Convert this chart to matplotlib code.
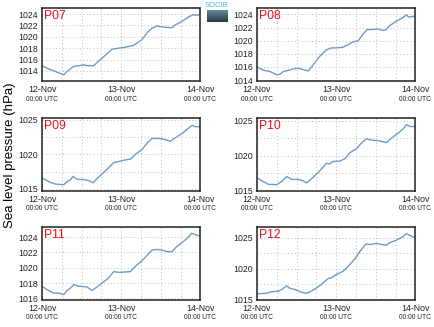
import matplotlib
matplotlib.use("Agg")
import matplotlib.pyplot as plt
import numpy as np

plt.rcParams['font.family'] = ['Liberation Sans', 'DejaVu Sans']

# hours since 12-Nov 00:00 UTC and sea level pressure (hPa)
t07 = [0, 2, 4, 6.6, 7.6, 9.6, 11.1, 12.6, 14.1, 15.7, 16.7, 18.7, 21.2, 23.2, 24.7, 27.8, 30.3, 31.8,
       33.3, 34.8, 36.9, 39.4, 40.4, 42.4, 44.4, 45.8, 46.5, 48]
p07 = [1014.9, 1014.35, 1013.9, 1013.3, 1013.9, 1014.8, 1014.9, 1015.05, 1014.9, 1014.9, 1015.5, 1016.5,
       1017.8, 1018.0, 1018.1, 1018.5, 1019.5, 1020.7, 1021.5, 1021.9, 1021.7, 1021.6, 1022.1, 1022.7,
       1023.5, 1023.9, 1023.8, 1023.9]

t08 = [0, 2, 4, 6, 7, 8, 9.6, 11, 12.6, 14, 15.6, 17, 19, 21, 22.6, 24, 26, 27.7, 29, 30.7, 32, 33.4,
       35, 36.7, 37.7, 39, 40, 42, 43.8, 45.3, 46, 48]
p08 = [1016.0, 1015.5, 1015.3, 1014.8, 1014.9, 1015.3, 1015.5, 1015.7, 1015.8, 1015.6, 1015.4, 1016.3,
       1017.6, 1018.6, 1018.9, 1018.9, 1019.0, 1019.4, 1019.8, 1020.0, 1020.9, 1021.7, 1021.7, 1021.8,
       1021.6, 1021.6, 1022.2, 1022.9, 1023.4, 1023.9, 1023.6, 1023.75]

t09 = [0, 2, 4, 6.6, 7.6, 8.6, 9.4, 10.6, 12.6, 14.1, 15.5, 16.7, 19.2, 21.7, 23.2, 24.7, 26.8, 28.3,
       30.3, 31.8, 33.3, 35.4, 36.9, 38.9, 40.4, 42.4, 43.9, 45.5, 46.5, 48]
p09 = [1016.6, 1016.05, 1015.7, 1015.6, 1016.05, 1016.3, 1016.8, 1016.4, 1016.35, 1016.2, 1015.9,
       1016.5, 1017.6, 1018.8, 1018.95, 1019.15, 1019.3, 1020.0, 1020.7, 1021.6, 1022.3, 1022.3, 1022.2,
       1021.9, 1022.4, 1023.0, 1023.6, 1024.2, 1024.0, 1024.0]

t10 = [0, 1.5, 3.5, 6, 7.5, 9, 10.6, 12.6, 14, 15, 16.6, 18.6, 21.1, 22, 23, 25, 26.7, 28, 30.2, 31.7,
       33.2, 34.7, 37.2, 39.2, 40.8, 42.8, 44.3, 45.3, 46.3, 48]
p10 = [1016.85, 1016.4, 1015.9, 1015.85, 1016.3, 1017.0, 1016.6, 1016.6, 1016.4, 1016.1, 1016.7,
       1017.6, 1018.9, 1018.8, 1019.15, 1019.2, 1019.55, 1020.35, 1021.0, 1021.8, 1022.4, 1022.2, 1022.1,
       1021.85, 1022.5, 1023.2, 1023.8, 1024.4, 1024.15, 1024.15]

t11 = [0, 1.5, 3.5, 5, 6.6, 7.6, 8.6, 9.6, 11.1, 13.6, 15.2, 16.2, 18.2, 20.2, 21.7, 23.2, 26.8, 28.3,
       30.3, 31.8, 33.3, 34.8, 36.4, 37.9, 39.4, 40.4, 42.4, 43.9, 45.3, 46.5, 48]
p11 = [1017.6, 1017.15, 1016.7, 1016.7, 1016.5, 1017.05, 1017.35, 1017.8, 1017.6, 1017.5, 1017.05,
       1017.35, 1018.0, 1018.7, 1019.5, 1019.4, 1019.5, 1020.2, 1020.9, 1021.6, 1022.3, 1022.4, 1022.3,
       1022.1, 1022.1, 1022.6, 1023.3, 1023.8, 1024.5, 1024.3, 1024.1]

t12 = [0, 3, 4.5, 6.5, 7.5, 9, 10, 11.6, 13, 14.6, 15.6, 17, 19, 21.6, 22.6, 24.1, 26.2, 27.7, 29.7,
       31.2, 33, 34.2, 36.2, 37.7, 39.2, 40.2, 42.2, 44.3, 45.3, 46.3, 48]
p12 = [1015.9, 1016.0, 1016.25, 1016.35, 1016.6, 1017.2, 1016.8, 1016.6, 1016.25, 1016.0, 1016.1,
       1016.5, 1017.2, 1018.4, 1018.5, 1019.05, 1019.6, 1020.4, 1021.6, 1022.8, 1024.0, 1023.9, 1024.1,
       1023.9, 1023.8, 1024.2, 1024.6, 1025.2, 1025.7, 1025.4, 1025.0]

names = ["P07", "P08", "P09", "P10", "P11", "P12"]
times = [t07, t08, t09, t10, t11, t12]
values = [p07, p08, p09, p10, p11, p12]
ylims = [(1012.2, 1025.1), (1013.85, 1025.0), (1014.7, 1025.3),
         (1014.95, 1025.4), (1015.8, 1025.35), (1014.9, 1026.8)]
ysteps = [2, 2, 5, 5, 2, 5]
xlabels = ["12-Nov", "13-Nov", "14-Nov"]

fig = plt.figure(figsize=(4.34, 3.27), dpi=100)

lefts = [0.0968, 0.592]
bottoms = [0.752, 0.416, 0.0826]
w, h = 0.365, 0.224

for i, name in enumerate(names):
    r, c = divmod(i, 2)
    ax = fig.add_axes([lefts[c], bottoms[r], w, h])
    ax.plot(times[i], values[i], color="#6e9bc9", lw=1.0)
    ax.set_xlim(0, 48)
    lo, hi = ylims[i]
    ax.set_ylim(lo, hi)
    st = ysteps[i]
    ax.set_yticks(np.arange(np.ceil(lo / st) * st, hi, st))
    if st == 5:
        ax.set_yticks(np.arange(np.ceil(lo / 2.5) * 2.5, hi, 2.5), minor=True)
    ax.set_xticks([0, 24, 48])
    ax.set_xticklabels(xlabels)
    ax.set_xticks(np.arange(6, 48, 6), minor=True)
    ax.grid(True, which="both", color="#bbbbbb", ls=(0, (1, 2.5)), lw=0.7)
    ax.tick_params(which="both", length=0, labelsize=6.3, pad=3, colors="#222222")
    for s in ax.spines.values():
        s.set_linewidth(1.1)
        s.set_color("#222222")
    for x in [0, 24, 48]:
        ax.text(x / 48, -0.245, "00:00 UTC", transform=ax.transAxes,
                ha="center", va="center", fontsize=4.8, color="#222222")
    ax.text(0.015, 0.97, name, transform=ax.transAxes, ha="left", va="top",
            fontsize=8.8, color="#e8101a")

fig.text(0.022, 0.526, "Sea level pressure (hPa)", rotation=90, ha="center", va="center",
         fontsize=9.5)

# small logo at top centre
fig.text(0.4995, 0.995, "SOCIB", ha="center", va="top", fontsize=5.5, color="#3fc0d8")
lax = fig.add_axes([207 / 434, 1 - 22 / 327, 21 / 434, 12 / 327])
grad = np.linspace(0, 1, 20).reshape(-1, 1)
lax.imshow(grad, aspect="auto", cmap=matplotlib.colors.LinearSegmentedColormap.from_list(
    "logo", ["#5d8a99", "#2a3b46"]))
lax.axis("off")

fig.savefig("out.png", dpi=100)
